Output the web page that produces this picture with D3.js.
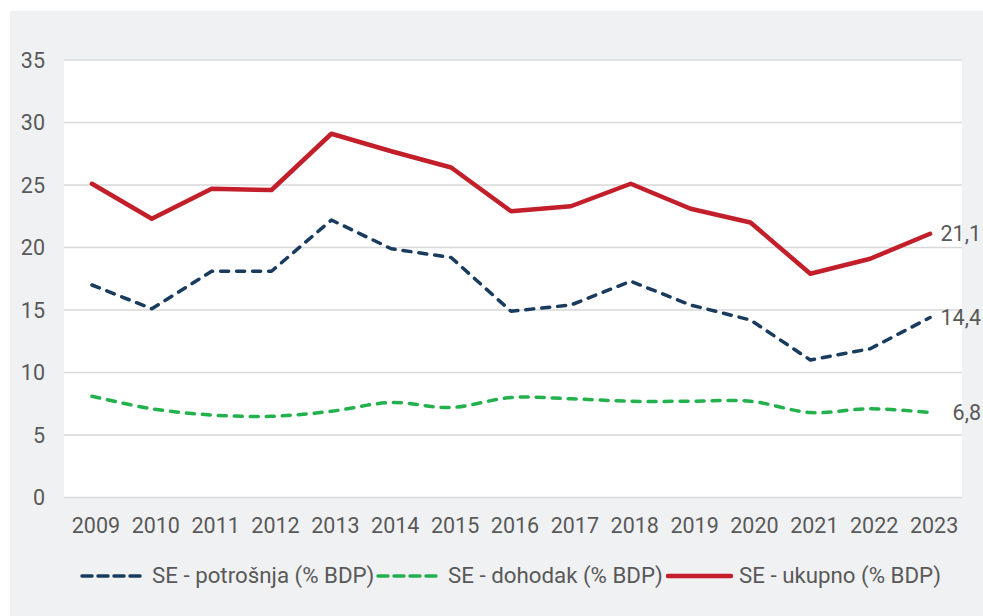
<!DOCTYPE html>
<html>
<head>
<meta charset="utf-8">
<script src="https://cdn.jsdelivr.net/npm/d3@7"></script>
<style>
  body { margin: 0; background: #fff; }
  text { font-family: Roboto, "Noto Sans", sans-serif; fill: #595959; }
</style>
</head>
<body>
<script>
// podaci
let years = ['2009', '2010', '2011', '2012', '2013', '2014', '2015', '2016', '2017', '2018', '2019', '2020', '2021', '2022', '2023']
let potrosnja = [17.0, 15.1, 18.1, 18.1, 22.2, 19.9, 19.2, 14.9, 15.4, 17.3, 15.4, 14.2, 11.0, 11.9, 14.4]
let dohodak = [8.1, 7.1, 6.6, 6.5, 6.9, 7.6, 7.2, 8.0, 7.9, 7.7, 7.7, 7.7, 6.8, 7.1, 6.8]
let ukupno = [25.1, 22.3, 24.7, 24.6, 29.1, 27.7, 26.4, 22.9, 23.3, 25.1, 23.1, 22.0, 17.9, 19.1, 21.1]
let yTicks = [0, 5, 10, 15, 20, 25, 30, 35]
let seriesNames = ['SE - potrošnja (% BDP)', 'SE - dohodak (% BDP)', 'SE - ukupno (% BDP)']
let endLabels = ['14,4', '6,8', '21,1']

let width = 983
let height = 616
let fs = 21.5
let svg = d3.select('body').append('svg')
  .attr('width', width)
  .attr('height', height)

// sivi okvir i bijela ploha
svg.append('rect').attr('x', 10).attr('y', 11).attr('width', 973).attr('height', 605).attr('fill', '#f0f1f3')

let x = d3.scalePoint().domain(years).range([64, 962]).padding(0.5)
let y = d3.scaleLinear().domain([0, 35]).range([497.5, 60])

svg.append('rect').attr('x', 64).attr('y', y(35)).attr('width', 898).attr('height', y(0) - y(35)).attr('fill', '#fff')

// mreža
svg.selectAll('.grid').data(yTicks).enter().append('line')
  .attr('x1', 64).attr('x2', 962)
  .attr('y1', d => y(d)).attr('y2', d => y(d))
  .attr('stroke', '#d9d9d9').attr('stroke-width', 1.5)

// osi
svg.selectAll('.ylab').data(yTicks).enter().append('text')
  .attr('x', 45).attr('y', d => y(d)).attr('dy', '0.36em')
  .attr('text-anchor', 'end').attr('font-size', fs)
  .text(d => d)

svg.selectAll('.xlab').data(years).enter().append('text')
  .attr('x', d => x(d) + 2).attr('y', 533)
  .attr('text-anchor', 'middle').attr('font-size', fs)
  .text(d => d)

let series = [
  { name: seriesNames[0], values: potrosnja, color: '#183b5e', width: 3.5, dash: '8,8', curve: d3.curveLinear, label: endLabels[0] },
  { name: seriesNames[1], values: dohodak, color: '#22b14c', width: 3.5, dash: '8,8', curve: d3.curveCardinal.tension(0), label: endLabels[1] },
  { name: seriesNames[2], values: ukupno, color: '#c21f2a', width: 4.5, dash: null, curve: d3.curveLinear, label: endLabels[2] }
]

series.forEach(s => {
  let line = d3.line()
    .x((d, i) => x(years[i]) - 2)
    .y(d => y(d))
    .curve(s.curve)
  svg.append('path')
    .datum(s.values)
    .attr('d', line)
    .attr('fill', 'none')
    .attr('stroke', s.color)
    .attr('stroke-width', s.width)
    .attr('stroke-linecap', 'round')
    .attr('stroke-linejoin', 'round')
    .attr('stroke-dasharray', s.dash)
  // oznaka zadnje vrijednosti
  svg.append('text')
    .attr('x', 981)
    .attr('y', y(s.values[s.values.length - 1]))
    .attr('dy', '0.36em')
    .attr('text-anchor', 'end')
    .attr('font-size', fs)
    .text(s.label)
})

// legenda
let legendX = [82, 378, 668]
let legend = svg.selectAll('.legend').data(series).enter().append('g')
  .attr('transform', (d, i) => 'translate(' + legendX[i] + ',576)')
legend.append('line')
  .attr('x1', 0).attr('x2', d => d.dash ? 58 : 63)
  .attr('y1', 0).attr('y2', 0)
  .attr('stroke', d => d.color)
  .attr('stroke-width', d => d.width)
  .attr('stroke-linecap', 'round')
  .attr('stroke-dasharray', d => d.dash ? '10,6' : null)
legend.append('text')
  .attr('x', d => d.dash ? 70 : 71)
  .attr('y', 7)
  .attr('font-size', 22.3)
  .text(d => d.name)
</script>
</body>
</html>
